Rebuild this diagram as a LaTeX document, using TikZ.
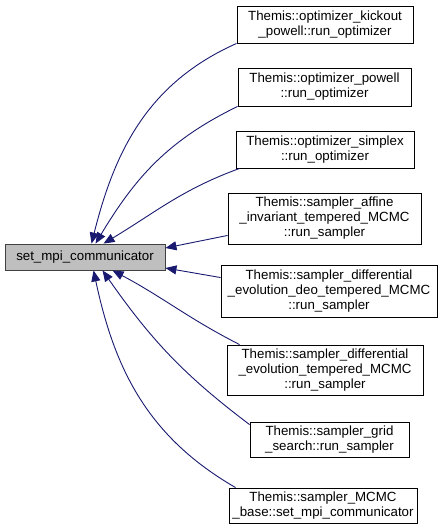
\documentclass[tikz,border=0pt]{standalone}
\usepackage{fontspec}
\setmainfont{Liberation Sans}
\usetikzlibrary{arrows.meta}
\definecolor{edgecol}{HTML}{191970}
\definecolor{nodefill}{HTML}{BFBFBF}
\definecolor{bordercol}{HTML}{404040}
\begin{document}
\begin{tikzpicture}[x=1pt,y=-1pt,
  box/.style={draw=black, line width=0.9pt, fill=white, align=center, inner sep=0pt,
    font=\fontsize{13.3}{15}\selectfont},
  edge/.style={draw=edgecol, line width=0.9pt, -{Triangle[length=11pt,width=9pt]}}]
\useasboundingbox (0,0) rectangle (442,528);
\node[box, fill=nodefill, draw=bordercol, minimum width=160pt, minimum height=26pt] (set) at (85,257) {set\_mpi\_communicator};
\node[box, minimum width=176pt, minimum height=37pt] (k) at (325,24.5) {Themis::optimizer\_kickout\\\_powell::run\_optimizer};
\node[box, minimum width=173pt, minimum height=38pt] (p) at (324.5,87) {Themis::optimizer\_powell\\::run\_optimizer};
\node[box, minimum width=178pt, minimum height=37pt] (s) at (325,149.5) {Themis::optimizer\_simplex\\::run\_optimizer};
\node[box, minimum width=193pt, minimum height=51pt] (a) at (324.5,218.5) {Themis::sampler\_affine\\\_invariant\_tempered\_MCMC\\::run\_sampler};
\node[box, minimum width=216pt, minimum height=52pt] (d) at (329,291) {Themis::sampler\_differential\\\_evolution\_deo\_tempered\_MCMC\\::run\_sampler};
\node[box, minimum width=196pt, minimum height=50pt] (e) at (325,370) {Themis::sampler\_differential\\\_evolution\_tempered\_MCMC\\::run\_sampler};
\node[box, minimum width=159pt, minimum height=35pt] (g) at (329.5,439.5) {Themis::sampler\_grid\\\_search::run\_sampler};
\node[box, minimum width=188pt, minimum height=35pt] (b) at (323,505.5) {Themis::sampler\_MCMC\\\_base::set\_mpi\_communicator};

\draw[edge] (k.south west) to[out=204,in=76] ([xshift=87pt]set.north west);
\draw[edge] (p.south west) to[out=206,in=59] ([xshift=91pt]set.north west);
\draw[edge] ([xshift=4pt]s.south west) to[out=200,in=31] ([xshift=99pt]set.north west);
\draw[edge] ([yshift=9pt]a.south west) -- ([yshift=9pt]set.east);
\draw[edge] ([yshift=-13pt]d.north west) -- ([yshift=-11pt]set.east);
\draw[edge] ([xshift=13pt]e.north west) to[out=153,in=-28] ([xshift=108pt]set.south west);
\draw[edge] ([yshift=-3pt]g.north west) to[out=143,in=-55] ([xshift=98pt]set.south west);
\draw[edge] ([xshift=7pt]b.north west) to[out=150,in=-78] ([xshift=89pt]set.south west);
\end{tikzpicture}
\end{document}
